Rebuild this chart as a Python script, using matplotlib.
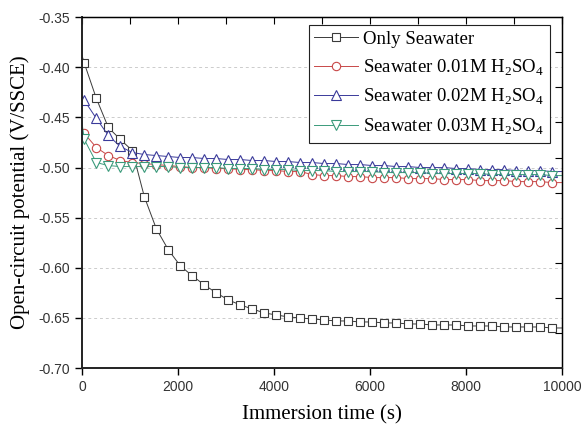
import numpy as np
import matplotlib
matplotlib.use('Agg')
import matplotlib.pyplot as plt

# time points (s): start point, then marker points every 250 s, then end
t = [0] + [50 + 250 * k for k in range(40)] + [10000]

only_sw = [-0.388,
           -0.396, -0.431, -0.460, -0.472, -0.483, -0.529, -0.561, -0.582,
           -0.598, -0.608, -0.617, -0.625, -0.632, -0.637, -0.641, -0.645,
           -0.647, -0.649, -0.650, -0.651, -0.652, -0.653, -0.653, -0.654,
           -0.654, -0.655, -0.655, -0.656, -0.656, -0.657, -0.657, -0.657,
           -0.658, -0.658, -0.658, -0.659, -0.659, -0.659, -0.659, -0.660,
           -0.660]
sw_001 = [-0.460,
          -0.466, -0.480, -0.488, -0.493, -0.495, -0.496, -0.497, -0.498,
          -0.499, -0.500, -0.500, -0.501, -0.501, -0.502, -0.502, -0.503,
          -0.503, -0.504, -0.504, -0.507, -0.508, -0.508, -0.509, -0.509,
          -0.510, -0.510, -0.510, -0.511, -0.511, -0.511, -0.512, -0.512,
          -0.512, -0.513, -0.513, -0.513, -0.514, -0.514, -0.514, -0.515,
          -0.515]
sw_002 = [-0.428,
          -0.433, -0.451, -0.468, -0.479, -0.485, -0.487, -0.488, -0.489,
          -0.490, -0.490, -0.491, -0.491, -0.492, -0.492, -0.493, -0.493,
          -0.494, -0.494, -0.495, -0.495, -0.496, -0.496, -0.497, -0.497,
          -0.498, -0.498, -0.499, -0.499, -0.500, -0.500, -0.500, -0.501,
          -0.501, -0.502, -0.502, -0.502, -0.503, -0.503, -0.503, -0.504,
          -0.504]
sw_003 = [-0.455,
          -0.472, -0.495, -0.498, -0.499, -0.499, -0.499, -0.499, -0.499,
          -0.500, -0.500, -0.500, -0.500, -0.501, -0.501, -0.501, -0.502,
          -0.502, -0.502, -0.503, -0.503, -0.503, -0.504, -0.504, -0.504,
          -0.504, -0.505, -0.505, -0.505, -0.505, -0.506, -0.506, -0.506,
          -0.506, -0.506, -0.507, -0.507, -0.507, -0.507, -0.507, -0.508,
          -0.508]

labels = ['Only Seawater',
          r'Seawater 0.01M H$_2$SO$_4$',
          r'Seawater 0.02M H$_2$SO$_4$',
          r'Seawater 0.03M H$_2$SO$_4$']

plt.rcParams['mathtext.fontset'] = 'custom'
plt.rcParams['mathtext.rm'] = 'Liberation Serif'

fig = plt.figure(figsize=(5.81, 4.29), dpi=100)
ax = fig.add_axes([0.141, 0.142, 0.826, 0.818])

styles = [
    (only_sw, 's', '#3a3a3a', 5.5),
    (sw_001, 'o', '#c84848', 6.0),
    (sw_002, '^', '#3a3a9a', 6.5),
    (sw_003, 'v', '#3a9a7a', 6.5),
]
for (vals, m, c, ms), lab in zip(styles, labels):
    ax.plot(t, vals, color=c, lw=0.7, marker=m, ms=ms, mfc='white',
            mec=c, mew=0.8, markevery=slice(1, 41), label=lab)

ax.set_xlim(0, 10000)
ax.set_ylim(-0.70, -0.35)
ax.set_xticks([0, 2000, 4000, 6000, 8000, 10000])
ax.set_yticks([-0.70, -0.65, -0.60, -0.55, -0.50, -0.45, -0.40, -0.35])
ax.set_yticklabels(['%.2f' % v for v in ax.get_yticks()])
ax.tick_params(direction='out', length=5, width=1, labelsize=10,
               labelcolor='#333333', labelfontfamily='Liberation Sans')
ax.yaxis.grid(True, ls=(0, (3, 3)), color='#cccccc', lw=0.7)

for s in ['left', 'bottom']:
    ax.spines[s].set_linewidth(1.4)
    ax.spines[s].set_color('#222222')
for s in ['top', 'right']:
    ax.spines[s].set_linewidth(1.0)

# inward ticks on the top and right edges
top = ax.secondary_xaxis('top')
top.set_xticks(np.arange(0, 10001, 1000))
top.tick_params(direction='in', length=5, labeltop=False)
right = ax.secondary_yaxis('right')
right.set_yticks([-0.385, -0.420, -0.455, -0.490, -0.525, -0.560,
                  -0.595, -0.630, -0.665])
right.tick_params(direction='in', length=5, labelright=False)

ax.set_xlabel('Immersion time (s)', fontsize=15, family='Liberation Serif',
              labelpad=8)
ax.set_ylabel('Open-circuit potential (V/SSCE)', fontsize=15,
              family='Liberation Serif', labelpad=6)

leg = ax.legend(loc='upper right', bbox_to_anchor=(0.975, 0.977),
                borderaxespad=0,
                prop={'family': 'Liberation Serif', 'size': 13.5},
                frameon=True, fancybox=False, framealpha=1,
                edgecolor='#222222', handlelength=2.3, borderpad=0.3,
                labelspacing=0.5, handletextpad=0.3)
leg.get_frame().set_linewidth(0.8)

fig.savefig('out.png', dpi=100)
